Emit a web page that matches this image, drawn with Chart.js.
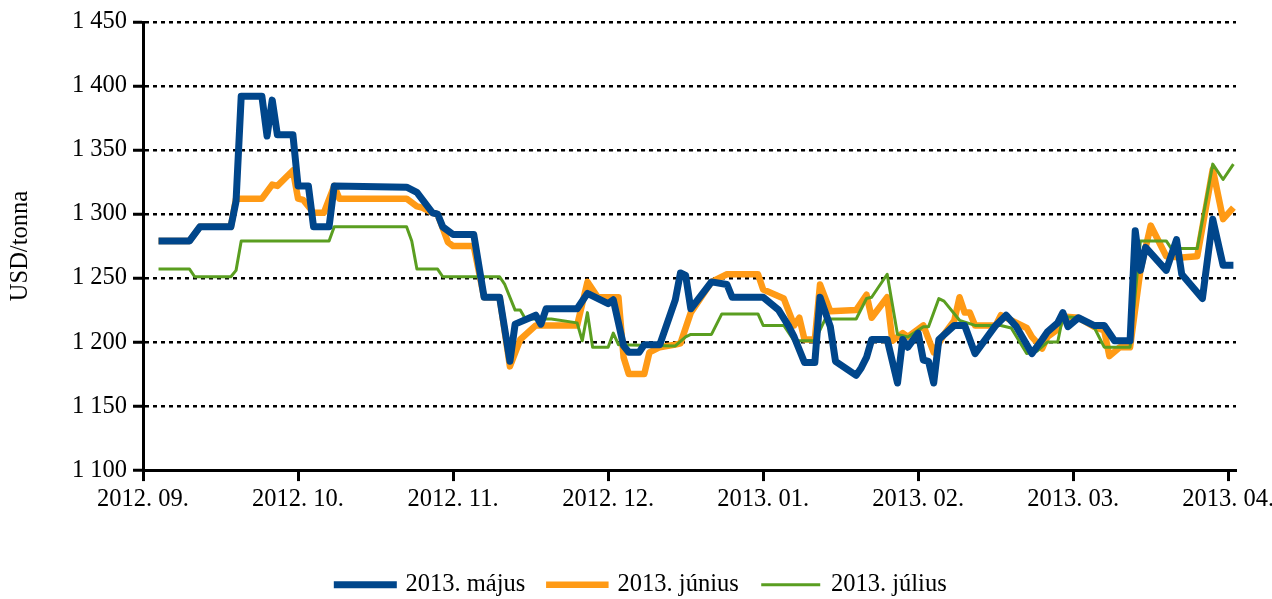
<!DOCTYPE html>
<html>
<head>
<meta charset="utf-8">
<script src="https://cdn.jsdelivr.net/npm/chart.js@4.4.0/dist/chart.umd.min.js"></script>
<style>
  html, body { margin: 0; padding: 0; background: #fff; }
  #wrap { width: 1272px; height: 599px; }
</style>
</head>
<body>
<div id="wrap"><canvas id="priceChart"></canvas></div>
<script>
// x axis runs in days from the start of 2012. 09., 30 days per month label
const monthLabels = ['2012. 09.', '2012. 10.', '2012. 11.', '2012. 12.', '2013. 01.', '2013. 02.', '2013. 03.', '2013. 04.'];
const daysPerMonth = 30;

const seriesNames = ['2013. május', '2013. június', '2013. július'];

// 2013. május contract
const mayDays = [3, 9, 11, 17, 18, 19, 23, 24, 25, 26, 29, 30, 32, 33, 36, 37, 51, 53, 56, 57,
  58, 60, 64, 66, 69, 71, 72, 76, 77, 78, 84, 86, 90, 91, 93, 94, 96, 97, 100, 103,
  104, 105, 106, 110, 113, 114, 120, 123, 125, 126, 128, 130, 131, 133, 134, 138, 139, 140, 141, 144,
  146, 147, 148, 150, 151, 152, 153, 154, 157, 159, 161, 165, 167, 169, 172, 174, 175, 177, 178, 179,
  181, 184, 186, 188, 191, 192, 193, 194, 198, 200, 201, 205, 207, 209, 211];
const mayPrices = [1279, 1279, 1290, 1290, 1310, 1392, 1392, 1361, 1389, 1362, 1362, 1322, 1322, 1290, 1290, 1322, 1321, 1317, 1301, 1300,
  1290, 1284, 1284, 1235, 1235, 1185, 1214, 1221, 1214, 1226, 1226, 1238, 1230, 1233, 1197, 1192, 1192, 1198, 1198, 1233,
  1254, 1252, 1226, 1247, 1245, 1235, 1235, 1225, 1212, 1204, 1184, 1184, 1235, 1212, 1185, 1174, 1180, 1188, 1202, 1202,
  1168, 1202, 1196, 1207, 1186, 1185, 1168, 1202, 1213, 1213, 1191, 1213, 1221, 1212, 1191, 1202, 1208, 1215, 1223, 1212,
  1219, 1213, 1213, 1201, 1201, 1287, 1256, 1274, 1256, 1280, 1253, 1234, 1296, 1260, 1260];

// 2013. június contract
const juneDays = [3, 9, 11, 17, 18, 23, 25, 26, 29, 30, 31, 33, 35, 37, 38, 51, 53, 54, 56, 57,
  59, 60, 64, 66, 69, 71, 73, 76, 84, 86, 88, 92, 93, 94, 97, 98, 100, 103, 104, 106,
  110, 113, 119, 120, 124, 126, 127, 128, 130, 131, 133, 138, 140, 141, 144, 145, 147, 148, 151, 153,
  155, 157, 158, 159, 160, 161, 165, 166, 171, 172, 174, 175, 177, 178, 181, 184, 186, 187, 189, 191,
  193, 195, 198, 201, 204, 207, 209, 211];
const junePrices = [1279, 1279, 1290, 1290, 1312, 1312, 1323, 1322, 1334, 1312, 1311, 1301, 1301, 1322, 1312, 1312, 1306, 1305, 1301, 1300,
  1278, 1275, 1275, 1235, 1235, 1181, 1202, 1213, 1213, 1247, 1235, 1235, 1188, 1175, 1175, 1192, 1196, 1198, 1199, 1223,
  1247, 1253, 1253, 1241, 1234, 1213, 1219, 1202, 1202, 1245, 1224, 1225, 1237, 1219, 1235, 1201, 1207, 1204, 1213, 1192,
  1206, 1217, 1235, 1223, 1223, 1213, 1213, 1221, 1211, 1204, 1195, 1204, 1210, 1220, 1219, 1212, 1209, 1189, 1196, 1196,
  1256, 1291, 1267, 1266, 1267, 1335, 1296, 1305];

// 2013. július contract
const julyDays = [3, 9, 10, 17, 18, 19, 36, 37, 51, 52, 53, 57, 58, 69, 70, 72, 73, 74, 79, 84,
  85, 86, 87, 90, 91, 92, 103, 105, 106, 110, 112, 119, 120, 124, 126, 130, 132, 138, 140, 141,
  144, 146, 148, 151, 152, 154, 155, 158, 161, 166, 168, 171, 173, 175, 177, 178, 181, 184, 186, 191,
  193, 198, 199, 204, 207, 209, 211];
const julyPrices = [1257, 1257, 1251, 1251, 1256, 1279, 1279, 1290, 1290, 1279, 1257, 1257, 1251, 1251, 1245, 1225, 1225, 1218, 1218, 1215,
  1201, 1223, 1196, 1196, 1207, 1198, 1197, 1204, 1206, 1206, 1222, 1222, 1213, 1213, 1201, 1201, 1218, 1218, 1234, 1235,
  1253, 1206, 1204, 1212, 1212, 1234, 1232, 1217, 1213, 1213, 1211, 1191, 1193, 1200, 1200, 1220, 1219, 1212, 1196, 1196,
  1279, 1279, 1273, 1273, 1339, 1327, 1339];

const seriesColors = ['#00468b', '#ff9a15', '#5a9e20'];
const seriesWidths = [7, 6.5, 3];

function toPoints(days, prices) {
  return days.map((d, i) => ({ x: d, y: prices[i] }));
}

function formatPrice(v) {
  return Math.floor(v / 1000) + ' ' + String(v % 1000).padStart(3, '0');
}

Chart.defaults.font.family = "'Liberation Serif', 'Times New Roman', serif";
Chart.defaults.font.size = 24.5;
Chart.defaults.color = '#000';

const datasets = [
  toPoints(mayDays, mayPrices),
  toPoints(juneDays, junePrices),
  toPoints(julyDays, julyPrices)
].map((data, i) => ({
  label: seriesNames[i],
  data,
  borderColor: seriesColors[i],
  backgroundColor: seriesColors[i],
  borderWidth: seriesWidths[i],
  order: [0, 2, 1][i], // május on top, június underneath
  pointRadius: 0,
  borderJoinStyle: 'round',
  tension: 0,
  fill: false
}));

// nudge the legend row a little right of centre
const legendShift = {
  id: 'legendShift',
  afterLayout(chart) {
    chart.legend.left += 6;
    chart.legend.right += 6;
  }
};

new Chart(document.getElementById('priceChart'), {
  type: 'line',
  data: { datasets },
  plugins: [legendShift],
  options: {
    responsive: true,
    maintainAspectRatio: false,
    animation: false,
    layout: { padding: { top: 22, right: 0, left: 0, bottom: -8 } },
    plugins: {
      tooltip: { enabled: false },
      legend: {
        position: 'bottom',
        labels: {
          usePointStyle: true,
          pointStyle: 'line',
          pointStyleWidth: 56,
          padding: 24,
          sort: (a, b) => a.datasetIndex - b.datasetIndex,
          generateLabels(chart) {
            const items = Chart.defaults.plugins.legend.labels.generateLabels(chart);
            items.forEach(it => { it.pointStyle = 'line'; it.lineCap = 'square'; });
            return items;
          }
        }
      }
    },
    scales: {
      x: {
        type: 'linear',
        min: 0,
        max: 211.5,
        afterBuildTicks(axis) {
          axis.ticks = monthLabels.map((_, i) => ({ value: i * daysPerMonth }));
        },
        afterFit(axis) {
          axis.height += 30;
          axis.paddingRight = 36;
        },
        ticks: {
          autoSkip: false,
          maxRotation: 0,
          padding: 4,
          callback: (v, i) => monthLabels[i]
        },
        grid: { drawOnChartArea: false, tickLength: 11, tickColor: '#000', tickWidth: 3 },
        border: { color: '#000', width: 3 }
      },
      y: {
        min: 1100,
        max: 1450,
        ticks: { stepSize: 50, padding: 6, callback: v => formatPrice(v) },
        grid: { color: '#000', lineWidth: 2.5, tickLength: 10, tickColor: '#000', tickWidth: 3 },
        border: { color: '#000', width: 3, dash: [4, 4] },
        title: { display: true, text: 'USD/tonna', padding: { top: 6, bottom: 30.5 } }
      }
    }
  }
});
</script>
</body>
</html>
